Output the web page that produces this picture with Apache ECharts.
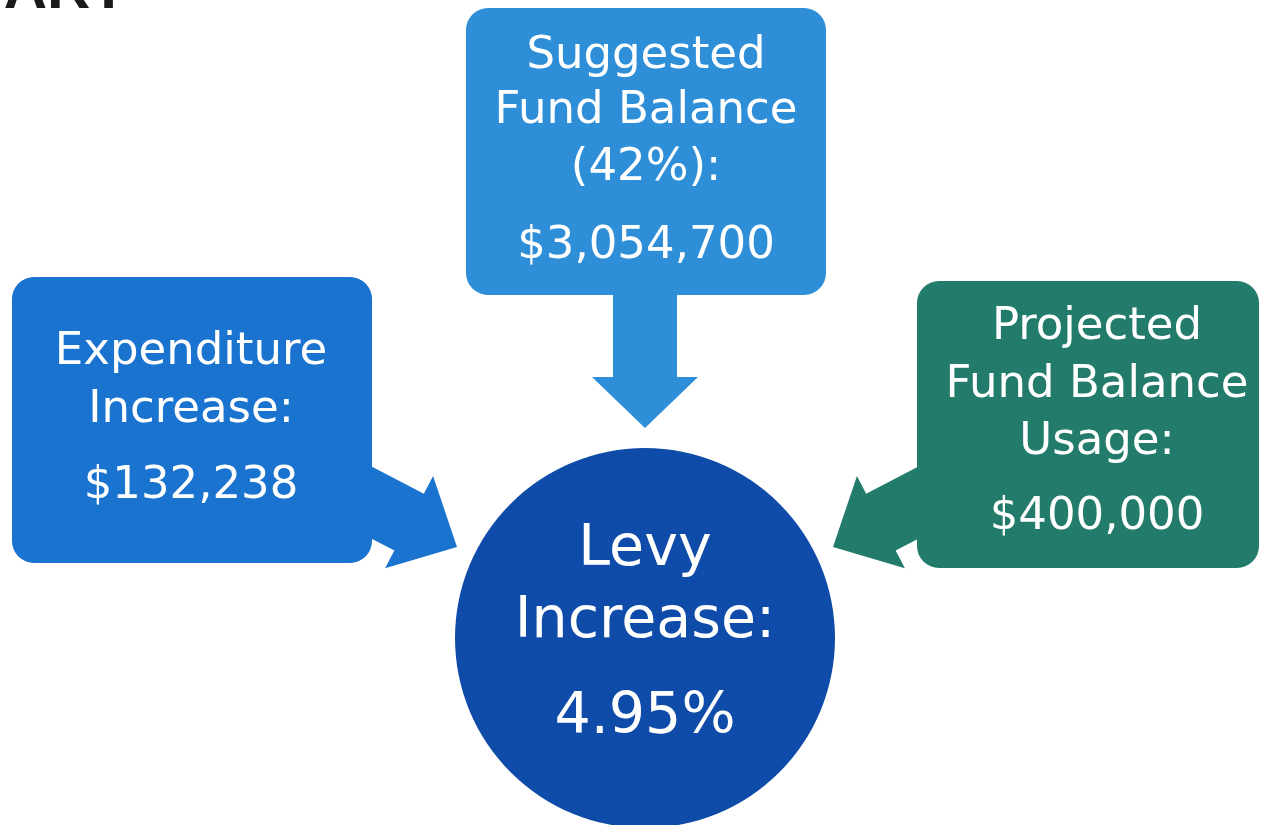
<!DOCTYPE html>
<html>
<head>
<meta charset="utf-8">
<script src="https://cdn.jsdelivr.net/npm/echarts@6/dist/echarts.min.js"></script>
<style>
  html, body { margin: 0; padding: 0; background: #ffffff; }
  #chart { width: 1262px; height: 825px; }
</style>
</head>
<body>
<div id="chart"></div>
<script>
// text of each shape, line by line
const topLines = ["Suggested", "Fund Balance", "(42%):", "$3,054,700"];
const leftLines = ["Expenditure", "Increase:", "$132,238"];
const rightLines = ["Projected", "Fund Balance", "Usage:", "$400,000"];
const centerLines = ["Levy", "Increase:", "4.95%"];
const headingText = "ART";

const FONT = "'DejaVu Sans', sans-serif";

// block arrow polygon from tail to tip
function blockArrow(tail, tip, shaftW, headW, headL) {
  let dx = tip[0] - tail[0], dy = tip[1] - tail[1];
  let len = Math.sqrt(dx * dx + dy * dy);
  let ux = dx / len, uy = dy / len;
  let px = -uy, py = ux;
  let bx = tip[0] - ux * headL, by = tip[1] - uy * headL;
  let s = shaftW / 2, h = headW / 2;
  return [
    [tail[0] + px * s, tail[1] + py * s],
    [bx + px * s, by + py * s],
    [bx + px * h, by + py * h],
    tip,
    [bx - px * h, by - py * h],
    [bx - px * s, by - py * s],
    [tail[0] - px * s, tail[1] - py * s]
  ];
}

function textLines(lines, cx, ys, size, color) {
  return lines.map((t, i) => ({
    type: "text",
    x: cx,
    y: ys[i],
    style: {
      text: t,
      fill: color || "#ffffff",
      font: "normal " + size + "px " + FONT,
      textAlign: "center",
      textVerticalAlign: "middle"
    }
  }));
}

let myChart = echarts.init(document.getElementById("chart"));

let elements = [];

// arrows (drawn first so boxes cover tails)
elements.push({
  type: "polygon",
  shape: { points: blockArrow([645, 280], [645, 428], 64, 106, 51) },
  style: { fill: "#2E8FD8" }
});
elements.push({
  type: "polygon",
  shape: { points: blockArrow([330, 481], [457, 547], 64, 104, 54) },
  style: { fill: "#1A73CE" }
});
elements.push({
  type: "polygon",
  shape: { points: blockArrow([960, 481], [833, 547], 64, 104, 54) },
  style: { fill: "#237C6B" }
});

// boxes
elements.push({
  type: "rect",
  shape: { x: 466, y: 8, width: 360, height: 287, r: 22 },
  style: { fill: "#2E8FD8" }
});
elements.push({
  type: "rect",
  shape: { x: 12, y: 277, width: 360, height: 286, r: 22 },
  style: { fill: "#1A73CE" }
});
elements.push({
  type: "rect",
  shape: { x: 917, y: 281, width: 342, height: 287, r: 22 },
  style: { fill: "#237C6B" }
});
elements.push({
  type: "circle",
  shape: { cx: 645, cy: 638, r: 190 },
  style: { fill: "#0F4BA8" }
});

// texts
elements = elements.concat(textLines(topLines, 646, [56, 111, 168, 246], 45));
elements = elements.concat(textLines(leftLines, 191, [352, 410, 486], 45));
elements = elements.concat(textLines(rightLines, 1097, [327, 385, 442, 517], 45));
elements = elements.concat(textLines(centerLines, 645, [550, 622, 718], 57));

// cut-off heading at the top left
elements.push({
  type: "text",
  x: 127,
  y: -39,
  style: {
    text: headingText,
    fill: "#1a1a1a",
    font: "bold 60px 'Liberation Sans', sans-serif",
    textAlign: "right",
    textVerticalAlign: "top"
  }
});

myChart.setOption({
  backgroundColor: "#ffffff",
  graphic: { elements: elements }
});
</script>
</body>
</html>
